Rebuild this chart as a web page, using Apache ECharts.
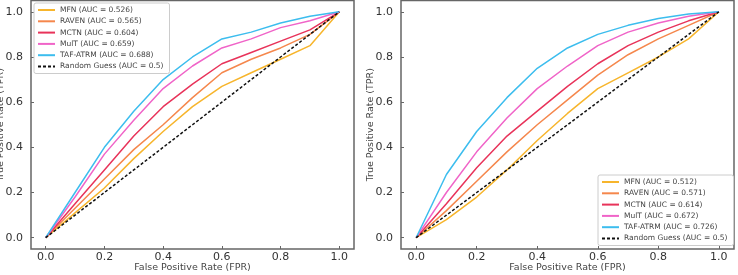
<!DOCTYPE html>
<html>
<head>
<meta charset="utf-8">
<script src="https://cdn.jsdelivr.net/npm/echarts@6/dist/echarts.min.js"></script>
<style>
  html, body { margin: 0; padding: 0; background: #fff; }
  #main { width: 738px; height: 275px; }
</style>
</head>
<body>
<div id="main"></div>
<script>
// FPR 采样点
const fpr = [0, 0.1, 0.2, 0.3, 0.4, 0.5, 0.6, 0.7, 0.8, 0.9, 1.0];
const ticks = [0, 0.2, 0.4, 0.6, 0.8, 1.0];

// 左图
const leftNames = ['MFN (AUC = 0.526)', 'RAVEN (AUC = 0.565)', 'MCTN (AUC = 0.604)', 'MulT (AUC = 0.659)', 'TAF-ATRM (AUC = 0.688)'];
const leftMFN   = [0, 0.11, 0.22, 0.35, 0.47, 0.58, 0.67, 0.73, 0.79, 0.85, 1.0];
const leftRAVEN = [0, 0.13, 0.26, 0.39, 0.50, 0.62, 0.73, 0.79, 0.84, 0.90, 1.0];
const leftMCTN  = [0, 0.15, 0.30, 0.45, 0.58, 0.68, 0.77, 0.82, 0.87, 0.92, 1.0];
const leftMulT  = [0, 0.18, 0.37, 0.52, 0.66, 0.76, 0.84, 0.88, 0.93, 0.96, 1.0];
const leftTAF   = [0, 0.20, 0.40, 0.56, 0.70, 0.80, 0.88, 0.91, 0.95, 0.98, 1.0];

// 右图
const rightNames = ['MFN (AUC = 0.512)', 'RAVEN (AUC = 0.571)', 'MCTN (AUC = 0.614)', 'MulT (AUC = 0.672)', 'TAF-ATRM (AUC = 0.726)'];
const rightMFN   = [0, 0.08, 0.18, 0.30, 0.43, 0.55, 0.66, 0.73, 0.80, 0.88, 1.0];
const rightRAVEN = [0, 0.12, 0.25, 0.38, 0.50, 0.61, 0.72, 0.81, 0.88, 0.94, 1.0];
const rightMCTN  = [0, 0.15, 0.31, 0.45, 0.56, 0.67, 0.77, 0.85, 0.91, 0.96, 1.0];
const rightMulT  = [0, 0.20, 0.38, 0.53, 0.66, 0.76, 0.85, 0.91, 0.95, 0.98, 1.0];
const rightTAF   = [0, 0.28, 0.47, 0.62, 0.75, 0.84, 0.90, 0.94, 0.97, 0.99, 1.0];

const guessName = 'Random Guess (AUC = 0.5)';
const guess = [0, 0.1, 0.2, 0.3, 0.4, 0.5, 0.6, 0.7, 0.8, 0.9, 1.0];

const colors = ['#f7b52c', '#f5874c', '#e8335a', '#f064c8', '#3cbdee'];

let myChart = echarts.init(document.getElementById('main'));

function pairs(ys) {
    return fpr.map((x, i) => [x, ys[i]]);
}

function lineSeries(names, values, idx) {
    let list = names.map((n, i) => ({
        name: n,
        type: 'line',
        xAxisIndex: idx,
        yAxisIndex: idx,
        data: pairs(values[i]),
        symbol: 'none',
        color: colors[i],
        lineStyle: { width: 1.5, color: colors[i] },
        z: 3
    }));
    list.push({
        name: guessName,
        type: 'line',
        xAxisIndex: idx,
        yAxisIndex: idx,
        data: pairs(guess),
        symbol: 'none',
        color: '#111',
        lineStyle: { width: 1.5, color: '#111', type: [3, 2] },
        z: 4
    });
    return list;
}

function xAx(idx) {
    return {
        type: 'value', gridIndex: idx, min: -0.05, max: 1.05,
        name: 'False Positive Rate (FPR)', nameLocation: 'middle', nameGap: 14, nameMoveOverlap: false,
        nameTextStyle: { fontSize: 9.5, color: '#444', fontFamily: 'DejaVu Sans' },
        axisLine: { show: false, onZero: false },
        axisTick: { show: true, inside: true, length: 3, customValues: ticks, lineStyle: { color: '#666' } },
        axisLabel: { customValues: ticks, fontSize: 11, color: '#333', margin: 3, fontFamily: 'DejaVu Sans',
            formatter: v => v.toFixed(1) },
        splitLine: { show: false }
    };
}

function yAx(idx) {
    return {
        type: 'value', gridIndex: idx, min: -0.05, max: 1.05,
        name: 'True Positive Rate (TPR)', nameLocation: 'middle', nameGap: 25, nameMoveOverlap: false,
        nameTextStyle: { fontSize: 9.5, color: '#444', fontFamily: 'DejaVu Sans' },
        axisLine: { show: false, onZero: false },
        axisTick: { show: true, inside: true, length: 3, customValues: ticks, lineStyle: { color: '#666' } },
        axisLabel: { customValues: ticks, fontSize: 11, color: '#333', margin: 8, fontFamily: 'DejaVu Sans',
            formatter: v => v.toFixed(1) },
        splitLine: { show: false }
    };
}

function legendOpt(names, pos) {
    return Object.assign({
        orient: 'vertical',
        data: names.concat([guessName]),
        itemWidth: 17, itemHeight: 8, itemGap: 3.3,
        padding: [3, 6, 3, 3],
        backgroundColor: '#fff',
        borderColor: '#ccc', borderWidth: 1, borderRadius: 2,
        selectedMode: false,
        itemStyle: { opacity: 0 },
        textStyle: { fontSize: 7.5, color: '#444', fontFamily: 'DejaVu Sans', lineHeight: 8 }
    }, pos);
}

let option = {
    animation: false,
    backgroundColor: '#fff',
    grid: [
        { left: 31, top: 0.5, width: 323, height: 248.5, show: true, borderColor: '#666', borderWidth: 1.5,
          outerBoundsMode: 'none', containLabel: false },
        { left: 401, top: 0.5, width: 333, height: 248.5, show: true, borderColor: '#666', borderWidth: 1.5,
          outerBoundsMode: 'none', containLabel: false }
    ],
    xAxis: [xAx(0), xAx(1)],
    yAxis: [yAx(0), yAx(1)],
    legend: [
        legendOpt(leftNames, { left: 34, top: 3 }),
        legendOpt(rightNames, { left: 598, top: 175 })
    ],
    series: lineSeries(leftNames, [leftMFN, leftRAVEN, leftMCTN, leftMulT, leftTAF], 0)
        .concat(lineSeries(rightNames, [rightMFN, rightRAVEN, rightMCTN, rightMulT, rightTAF], 1))
};

myChart.setOption(option);
</script>
</body>
</html>
